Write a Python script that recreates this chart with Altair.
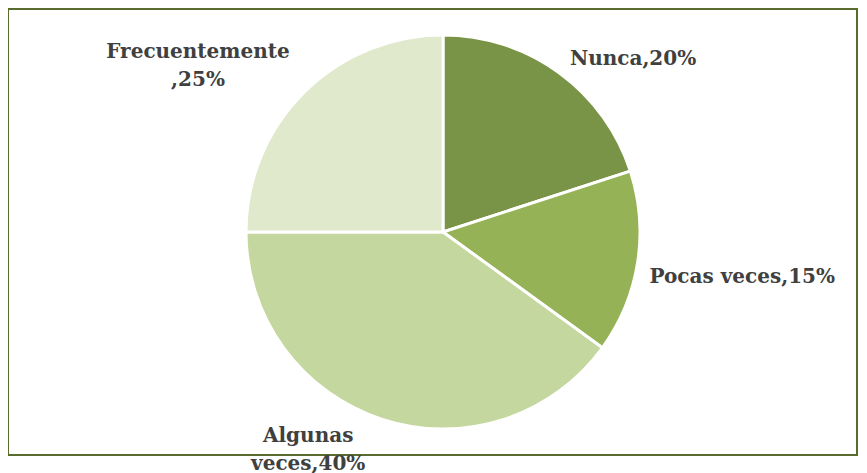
import altair as alt
import pandas as pd
import math

categories = ["Nunca", "Pocas veces", "Algunas veces", "Frecuentemente"]
values = [20, 15, 40, 25]
labels = ["Nunca,20%", "Pocas veces,15%", "Algunas\nveces,40%", "Frecuentemente\n,25%"]
colors = ["#7A9447", "#95B356", "#C4D79E", "#E0E9CC"]

df = pd.DataFrame({
    "cat": categories,
    "val": values,
    "label": labels,
    "idx": list(range(len(categories))),
})

CX, CY, R = 435, 224, 197

theta_scale = alt.Scale(domain=[0, 100], range=[0, 2 * math.pi])

base = alt.Chart(df).transform_window(
    cum="sum(val)", sort=[alt.SortField("idx")]
).transform_calculate(
    start="datum.cum - datum.val",
    mid="datum.cum - datum.val / 2",
).encode(
    x=alt.value(CX),
    y=alt.value(CY),
)

pie = base.mark_arc(radius=R, stroke="white", strokeWidth=3).encode(
    theta=alt.Theta("start:Q", scale=theta_scale),
    theta2="cum:Q",
    color=alt.Color("cat:N", scale=alt.Scale(domain=categories, range=colors), legend=None),
)

# label placement: (radius, dx, dy) per category
label_pos = {
    "Nunca": (257, 39, 35),
    "Pocas veces": (303, 0, -2),
    "Algunas veces": (255, -56, -39),
    "Frecuentemente": (297, -35, 30),
}

text_layers = []
for cat in categories:
    r, dx, dy = label_pos[cat]
    text_layers.append(
        base.mark_text(
            radius=r, dx=dx, dy=dy, font="DejaVu Serif", fontWeight="bold",
            fontSize=20, color="#404040", lineBreak="\n", lineHeight=28,
            align="center", baseline="middle",
        ).encode(
            theta=alt.Theta("mid:Q", scale=theta_scale),
            text="label:N",
        ).transform_filter(alt.datum.cat == cat)
    )

frame = alt.Chart(pd.DataFrame({"a": [0]})).mark_rect(
    fill=None, stroke="#5A6B2E", strokeWidth=2
).encode(
    x=alt.value(0), x2=alt.value(849), y=alt.value(1), y2=alt.value(447)
)

chart = alt.layer(pie, frame, *text_layers).properties(
    width=851, height=465, padding=0,
    autosize=alt.AutoSizeParams(type="none"),
).configure_view(stroke=None)

chart.save("out.html", embed_options={"renderer": "svg", "actions": False})
